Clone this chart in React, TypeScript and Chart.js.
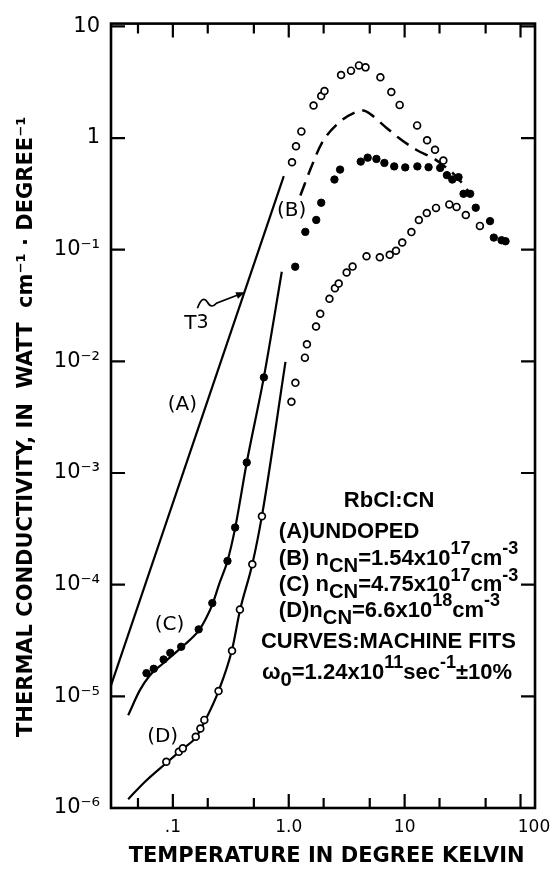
import React, { useEffect, useRef } from "react";
import { Chart, registerables } from "chart.js";

Chart.register(...registerables);

// ---------- axis ticks ----------
const xTickValues = [0.05, 0.1, 0.2, 0.5, 1, 2, 5, 10, 20, 50, 100];
const xTickLabels = ["", ".1", "", "", "1.0", "", "", "10", "", "", "     100"];
const yTickValues = [1e-6, 1e-5, 1e-4, 1e-3, 1e-2, 1e-1, 1, 10];
const yTickLabels = ["10⁻⁶", "10⁻⁵", "10⁻⁴", "10⁻³", "10⁻²", "10⁻¹", "1", "10"];

// ---------- (A) undoped: measured (open circles) and T^3 line ----------
const undopedT = [1.067, 1.155, 1.285, 1.637, 1.906, 2.034, 2.829, 3.445, 4.035, 4.597, 6.178, 7.677, 9.06, 12.82, 15.62, 18.29, 21.59];
const undopedK = [0.607, 0.843, 1.147, 1.956, 2.383, 2.64, 3.667, 4.013, 4.474, 4.294, 3.498, 2.586, 1.981, 1.298, 0.954, 0.786, 0.628];
const fitAT = [0.02925, 0.906];
const fitAK = [1.25e-5, 0.456];

// ---------- (B) 1.54e17: measured (filled) and dashed fit ----------
const sampleBT = [1.137, 1.39, 1.727, 1.906, 2.479, 2.773, 4.181, 4.799, 5.709, 6.687, 8.128, 10.12, 12.88, 16.09, 20.27, 23.17, 25.78, 29.19, 32.23, 36.78, 41.09, 54.58, 58.83, 68.6, 74.24];
const sampleBK = [0.0704, 0.1444, 0.1847, 0.2634, 0.4249, 0.5218, 0.615, 0.6674, 0.6498, 0.5986, 0.557, 0.5459, 0.557, 0.548, 0.5403, 0.4652, 0.4249, 0.4464, 0.3168, 0.3168, 0.2377, 0.1803, 0.1284, 0.1215, 0.1191];
const fitBT = [1.26, 1.534, 1.929, 2.682, 3.729, 4.392, 5.173, 6.739, 9.352, 12.57, 18.07, 22.02, 26.82, 33.72, 37.22];
const fitBK = [0.306, 0.522, 0.902, 1.36, 1.695, 1.766, 1.613, 1.271, 0.9656, 0.786, 0.6498, 0.5595, 0.4709, 0.3584, 0.306];

// ---------- (C) 4.75e17: measured (filled) and fit ----------
const sampleCT = [0.0592, 0.0684, 0.0832, 0.095, 0.118, 0.167, 0.2189, 0.296, 0.3446, 0.4341, 0.6105];
const sampleCK = [1.613e-5, 1.765e-5, 2.137e-5, 2.452e-5, 2.78e-5, 3.98e-5, 6.84e-5, 1.63e-4, 3.25e-4, 1.243e-3, 7.19e-3];
const fitCT = [0.04115, 0.0518, 0.0632, 0.0821, 0.118, 0.167, 0.1944, 0.2203, 0.2513, 0.296, 0.3446, 0.4341, 0.6105, 0.871];
const fitCK = [6.77e-6, 1.131e-5, 1.539e-5, 1.968e-5, 2.733e-5, 3.876e-5, 5.06e-5, 6.74e-5, 1.016e-4, 1.63e-4, 3.21e-4, 1.243e-3, 7.26e-3, 0.0635];

// ---------- (D) 6.6e18: measured (open) and fit ----------
const sampleDT = [0.08777, 0.1126, 0.1219, 0.1575, 0.1727, 0.1869, 0.2478, 0.324, 0.3789, 0.4848, 0.587, 1.055, 1.141, 1.379, 1.435, 1.72, 1.869, 2.245, 2.503, 2.698, 3.159, 3.556, 4.69, 6.107, 7.436, 8.423, 9.537, 11.44, 13.27, 15.53, 18.66, 24.3, 28.07, 33.72, 44.63];
const sampleDK = [2.597e-6, 3.19e-6, 3.42e-6, 4.34e-6, 5.15e-6, 6.15e-6, 1.114e-5, 2.555e-5, 5.99e-5, 1.523e-4, 4.1e-4, 4.35e-3, 6.42e-3, 0.01079, 0.0142, 0.02055, 0.02673, 0.03635, 0.0451, 0.0497, 0.0624, 0.0706, 0.0873, 0.0855, 0.0902, 0.098, 0.1159, 0.1438, 0.1847, 0.2132, 0.2367, 0.2544, 0.2416, 0.2047, 0.1633];
const fitDT = [0.04115, 0.0572, 0.08777, 0.121, 0.1587, 0.1906, 0.2478, 0.3228, 0.3803, 0.4848, 0.5905, 0.937];
const fitDK = [1.2e-6, 1.712e-6, 2.53e-6, 3.37e-6, 4.31e-6, 6.11e-6, 1.114e-5, 2.57e-5, 5.96e-5, 1.523e-4, 4.28e-4, 9.88e-3];

// ---------- text ----------
const xTitle = " TEMPERATURE IN DEGREE KELVIN";
const yTitle = "THERMAL CONDUCTIVITY, IN  WATT  cm⁻¹ · DEGREE⁻¹   ";

type Part = [string, string?];
type Note = { T: number; K: number; align: "left" | "center"; size: number; legend?: boolean; parts: Part[] };

const notes: Note[] = [
  { T: 0.121, K: 4.09e-3, align: "center", size: 20, parts: [["(A)"]] },
  { T: 0.1596, K: 0.0215, align: "center", size: 20, parts: [["T"], ["3", "sup2"]] },
  { T: 1.061, K: 0.2236, align: "center", size: 20, parts: [["(B)"]] },
  { T: 0.0937, K: 4.38e-5, align: "center", size: 20, parts: [["(C)"]] },
  { T: 0.0816, K: 4.31e-6, align: "center", size: 20, parts: [["(D)"]] },
  { T: 7.34, K: 5.6e-4, align: "center", size: 22, legend: true, parts: [["RbCl:CN"]] },
  { T: 0.821, K: 2.95e-4, align: "left", size: 22, legend: true, parts: [["(A)UNDOPED"]] },
  { T: 0.821, K: 1.71e-4, align: "left", size: 22, legend: true, parts: [["(B) n"], ["CN", "sub"], ["=1.54x10"], ["17", "sup"], ["cm"], ["-3", "sup"]] },
  { T: 0.821, K: 9.96e-5, align: "left", size: 22, legend: true, parts: [["(C) n"], ["CN", "sub"], ["=4.75x10"], ["17", "sup"], ["cm"], ["-3", "sup"]] },
  { T: 0.821, K: 5.84e-5, align: "left", size: 22, legend: true, parts: [["(D)n"], ["CN", "sub"], ["=6.6x10"], ["18", "sup"], ["cm"], ["-3", "sup"]] },
  { T: 0.5754, K: 3.09e-5, align: "left", size: 22, legend: true, parts: [["CURVES:MACHINE FITS"]] },
  { T: 0.587, K: 1.636e-5, align: "left", size: 22, legend: true, parts: [["ω"], ["0", "sub"], ["=1.24x10"], ["11", "sup"], ["sec"], ["-1", "sup"], ["±10%"]] },
];

// wavy arrow pointing at the T^3 line: start and tip (data coords)
const arrowStart = { T: 0.163, K: 0.0299 };
const arrowTip = { T: 0.4198, K: 0.04155 };

const FAMILY = "'DejaVu Sans', sans-serif";
const LEGEND_FONT = "bold {s}px 'Liberation Sans', Arial, sans-serif";

const pts = (xs: number[], ys: number[]) => xs.map((x, i) => ({ x, y: ys[i] }));

function drawRich(ctx: CanvasRenderingContext2D, parts: Part[], x: number, y: number, size: number, align: string, legend?: boolean) {
  const fontFor = (s: number) => (legend ? LEGEND_FONT.replace("{s}", String(s)) : `${s}px ${FAMILY}`);
  const spec = parts.map(([t, k]) => {
    let s = size, dy = 0;
    if (k === "sub") { s = size * 0.92; dy = size * 0.34; }
    if (k === "sup") { s = size * 0.82; dy = -size * 0.42; }
    if (k === "sup2") { s = size * 0.95; dy = -size * 0.08; }
    ctx.font = fontFor(s);
    return { t, s, dy, w: ctx.measureText(t).width };
  });
  const total = spec.reduce((a, b) => a + b.w, 0);
  let cx = align === "center" ? x - total / 2 : x;
  ctx.textAlign = "left";
  ctx.textBaseline = "middle";
  ctx.fillStyle = "#000";
  for (const p of spec) {
    ctx.font = fontFor(p.s);
    ctx.fillText(p.t, cx, y + p.dy);
    cx += p.w;
  }
}

const framePlugin = {
  id: "frameTicksNotes",
  afterDraw(chart: any) {
    const { ctx, chartArea } = chart;
    const { left, right, top, bottom } = chartArea;
    const xs = chart.scales.x;
    const ys = chart.scales.y;
    ctx.save();
    ctx.strokeStyle = "#000";
    ctx.lineWidth = 2.6;
    ctx.strokeRect(left, top, right - left, bottom - top);

    ctx.lineWidth = 2.2;
    xTickValues.forEach((v, i) => {
      const px = xs.getPixelForValue(v);
      const len = xTickLabels[i] ? 14 : 10;
      ctx.beginPath();
      ctx.moveTo(px, bottom);
      ctx.lineTo(px, bottom - len);
      ctx.moveTo(px, top);
      ctx.lineTo(px, top + len);
      ctx.stroke();
    });
    yTickValues.forEach((v) => {
      const py = ys.getPixelForValue(v);
      ctx.beginPath();
      ctx.moveTo(left, py);
      ctx.lineTo(left + 14, py);
      ctx.moveTo(right, py);
      ctx.lineTo(right - 14, py);
      ctx.stroke();
    });

    for (const n of notes) {
      drawRich(ctx, n.parts, xs.getPixelForValue(n.T), ys.getPixelForValue(n.K), n.size, n.align, n.legend);
    }

    // wavy arrow
    const sx = xs.getPixelForValue(arrowStart.T);
    const sy = ys.getPixelForValue(arrowStart.K);
    const tx = xs.getPixelForValue(arrowTip.T);
    const ty = ys.getPixelForValue(arrowTip.K);
    ctx.lineWidth = 1.7;
    ctx.beginPath();
    ctx.moveTo(sx, sy);
    ctx.quadraticCurveTo(sx + 5, sy - 14, sx + 10, sy - 6);
    ctx.quadraticCurveTo(sx + 14, sy + 1, sx + 19, sy - 5);
    ctx.lineTo(tx - 4, ty + 1.5);
    ctx.stroke();
    const ang = Math.atan2(ty - (sy - 5), tx - (sx + 19));
    ctx.beginPath();
    ctx.moveTo(tx, ty);
    ctx.lineTo(tx - 9 * Math.cos(ang) + 3.5 * Math.sin(ang), ty - 9 * Math.sin(ang) - 3.5 * Math.cos(ang));
    ctx.lineTo(tx - 9 * Math.cos(ang) - 3.5 * Math.sin(ang), ty - 9 * Math.sin(ang) + 3.5 * Math.cos(ang));
    ctx.closePath();
    ctx.fillStyle = "#000";
    ctx.fill();
    ctx.restore();
  },
};

export default function App() {
  const ref = useRef<HTMLCanvasElement | null>(null);
  useEffect(() => {
    if (!ref.current) return;
    Chart.defaults.font.family = FAMILY;
    Chart.defaults.color = "#000";
    const line = (xs: number[], ys: number[], extra: any = {}) => ({
      data: pts(xs, ys),
      showLine: true,
      pointRadius: 0,
      borderColor: "#000",
      borderWidth: 2.2,
      cubicInterpolationMode: "monotone",
      fill: false,
      ...extra,
    });
    const open = (xs: number[], ys: number[]) => ({
      data: pts(xs, ys),
      showLine: false,
      pointRadius: 3.4,
      pointBorderWidth: 1.7,
      pointBackgroundColor: "#fff",
      pointBorderColor: "#000",
    });
    const filled = (xs: number[], ys: number[]) => ({
      data: pts(xs, ys),
      showLine: false,
      pointRadius: 3.7,
      pointBorderWidth: 1,
      pointBackgroundColor: "#000",
      pointBorderColor: "#000",
    });
    const chart = new Chart(ref.current, {
      type: "scatter",
      data: {
        datasets: [
          { label: "(A) undoped data", ...open(undopedT, undopedK) },
          { label: "(B) data", ...filled(sampleBT, sampleBK) },
          { label: "(C) data", ...filled(sampleCT, sampleCK) },
          { label: "(D) data", ...open(sampleDT, sampleDK) },
          { label: "(A) T3", ...line(fitAT, fitAK, { cubicInterpolationMode: "default", tension: 0 }) },
          { label: "(B) fit", ...line(fitBT, fitBK, { borderDash: [14, 8], borderWidth: 2.5 }) },
          { label: "(C) fit", ...line(fitCT, fitCK) },
          { label: "(D) fit", ...line(fitDT, fitDK) },
        ] as any,
      },
      options: {
        animation: false,
        responsive: false,
        layout: { padding: { left: 0, right: 22, top: 20, bottom: 0 } },
        plugins: { legend: { display: false }, tooltip: { enabled: false } },
        scales: {
          x: {
            type: "logarithmic",
            min: 0.02925,
            max: 133.4,
            afterBuildTicks: (s: any) => { s.ticks = xTickValues.map((v) => ({ value: v })); },
            afterFit: (s: any) => { s.height = 64; },
            grid: { display: false, drawTicks: false },
            border: { display: false },
            ticks: {
              autoSkip: false,
              maxRotation: 0,
              minRotation: 0,
              padding: 9,
              font: { size: 17 },
              color: "#000",
              callback: (_v: any, i: number) => xTickLabels[i],
            },
            title: {
              display: true,
              text: xTitle,
              font: { size: 21, weight: "bold" },
              color: "#000",
              padding: { top: 0, bottom: 3 },
            },
          },
          y: {
            type: "logarithmic",
            min: 1e-6,
            max: 10.59,
            afterBuildTicks: (s: any) => { s.ticks = yTickValues.map((v) => ({ value: v })); },
            afterFit: (s: any) => { s.width = 111; },
            grid: { display: false, drawTicks: false },
            border: { display: false },
            ticks: {
              autoSkip: false,
              padding: 11,
              font: { size: 21 },
              color: "#000",
              callback: (_v: any, i: number) => yTickLabels[i],
            },
            title: {
              display: true,
              text: yTitle,
              font: { size: 21, weight: "bold" },
              color: "#000",
              padding: { top: 14, bottom: 0 },
            },
          },
        },
      } as any,
      plugins: [framePlugin],
    });
    return () => chart.destroy();
  }, []);
  return (
    <div style={{ position: "fixed", left: 0, top: 0, width: 560, height: 872, background: "#fff" }}>
      <canvas ref={ref} width={560} height={872} style={{ display: "block", width: 560, height: 872 }} />
    </div>
  );
}
